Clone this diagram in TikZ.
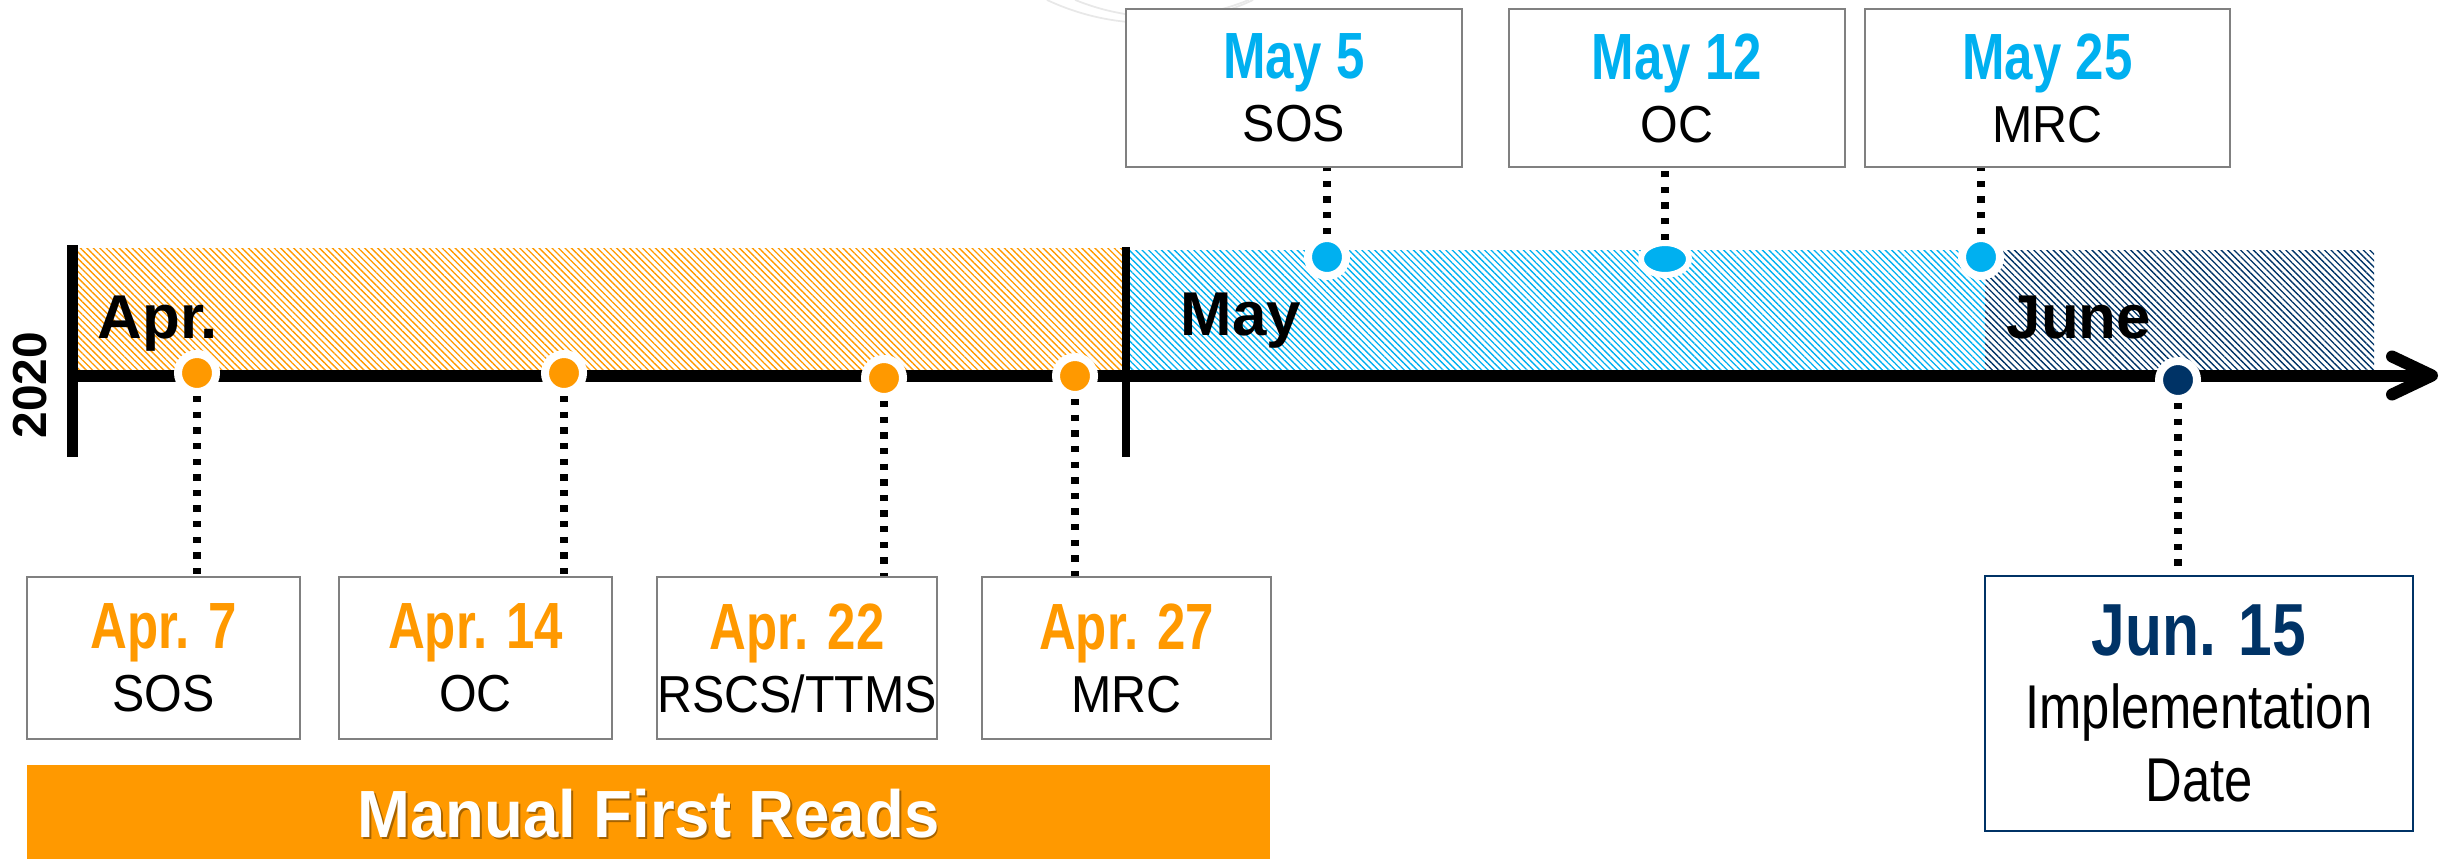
\documentclass[tikz,border=0pt]{standalone}
\usepackage{fontspec}
\setmainfont{Liberation Sans}
\newfontfamily\narrowsans{Liberation Sans}[FakeStretch=0.78]
\newfontfamily\semisans{Liberation Sans}[FakeStretch=0.93]
\newfontfamily\junsans{Liberation Sans}[FakeStretch=0.82]
\newfontfamily\barsans{Liberation Sans}[FakeStretch=0.95]
\usetikzlibrary{arrows.meta,patterns.meta,shadows,shapes.geometric}

\definecolor{aorange}{HTML}{FF9900}
\definecolor{mblue}{HTML}{00B0F0}
\definecolor{jnavy}{HTML}{003366}
\definecolor{boxgray}{HTML}{808080}

\newcommand{\evdate}[2]{{\narrowsans\bfseries\fontsize{18.6}{20}\selectfont\color{#1}#2}}

\tikzset{
	evbox/.style={draw=boxgray,line width=.6pt,fill=white,inner sep=0pt,align=center,
		font=\semisans\fontsize{14.8}{17.9}\selectfont},
	evdot/.style={circle,fill=#1,draw=white,line width=.8mm,minimum size=3.8mm,inner sep=0pt,
		drop shadow={opacity=.3,shadow xshift=.2mm,shadow yshift=-.2mm}},
	dotline/.style={line width=2.2pt,dash pattern=on 1.8pt off 2.65pt},
	monthlbl/.style={anchor=base west,inner sep=0pt,font=\bfseries\fontsize{17.6}{20}\selectfont},
	hatch/.style={pattern={Lines[angle=-45,distance=1.3pt,line width=.38pt]},pattern color=#1},
	bartxt/.style={inner sep=0pt,font=\barsans\bfseries\fontsize{19}{21}\selectfont},
}

\begin{document}
\begin{tikzpicture}
	\useasboundingbox (0,0) rectangle (24.45,8.59);
	% faint arcs at the top
	\draw[gray!18,line width=.5pt] (11.5,10.78) ++(244.8:2.42) arc[start angle=244.8,end angle=295.2,radius=2.42];
	\draw[gray!18,line width=.5pt] (11.62,10.72) ++(247.8:2.3) arc[start angle=247.8,end angle=292.2,radius=2.3];
	% month bands
	\path[hatch=aorange] (0.78,4.89) rectangle (11.22,6.11);
	\path[hatch=mblue] (11.26,4.89) rectangle (19.85,6.09);
	\path[hatch=jnavy] (19.85,4.89) rectangle (23.74,6.09);
	% axis
	\coordinate (ax0) at (0.67,4.835);
	\coordinate (ax1) at (24.38,4.835);
	\draw[line width=1.2mm,-{Straight Barb[length=4mm,width=3.8mm,round]}] (ax0) -- (ax1);
	\draw[line width=1.1mm] (0.725,6.14) -- (0.725,4.02);
	\draw[line width=.8mm] (11.26,6.12) -- (11.26,4.02);
	\node[rotate=90,inner sep=0pt,font=\bfseries\fontsize{13.6}{15}\selectfont] (yr) at (0.30,4.74) {2020};
	\node[monthlbl] (apr) at (0.97,5.21) {Apr.};
	\node[monthlbl] (may) at (11.80,5.24) {May};
	\node[monthlbl] (jun) at (20.06,5.21) {June};
	% april, below the axis
	\foreach \nm/\px/\py/\bx/\bw/\dt/\lb in {a7/1.97/4.86/1.635/2.73/Apr. 7/SOS,
		a14/5.64/4.86/4.755/2.73/Apr. 14/OC,
		a22/8.84/4.81/7.97/2.80/Apr. 22/{RSCS/TTMS},
		a27/10.75/4.83/11.265/2.89/Apr. 27/MRC}{
		\node[evdot=aorange] (p\nm) at (\px,\py) {};
		\node[evbox,minimum width=\bw cm,minimum height=1.62cm] (b\nm) at (\bx,2.01) {\evdate{aorange}{\dt}\\\lb};
		\draw[dotline] (p\nm) -- (p\nm |- b\nm.north);
	}
	% may, above the axis
	\node[evdot=mblue] (pm5) at (13.27,6.02) {};
	\node[evdot=mblue,ellipse,line width=.6mm,minimum width=4.8mm,minimum height=3.2mm] (pm12) at (16.65,6.00) {};
	\node[evdot=mblue] (pm25) at (19.81,6.02) {};
	\foreach \nm/\bx/\bw/\dt/\lb in {m5/12.94/3.36/May 5/SOS,
		m12/16.77/3.36/May 12/OC,
		m25/20.475/3.65/May 25/MRC}{
		\node[evbox,minimum width=\bw cm,minimum height=1.58cm] (t\nm) at (\bx,7.71) {\evdate{mblue}{\dt}\\\lb};
		\draw[dotline] (p\nm) -- (p\nm |- t\nm.south);
	}
	% june
	\node[evdot=jnavy] (pj15) at (21.78,4.79) {};
	\node[evbox,draw=jnavy,minimum width=4.28cm,minimum height=2.55cm,
		font=\junsans\fontsize{17.6}{20.7}\selectfont] (bj15) at (21.99,1.555)
		{{\junsans\bfseries\fontsize{21}{22}\selectfont\color{jnavy}Jun. 15}\\Implementation\\Date};
	\draw[dotline] (pj15) -- (pj15 |- bj15.north);
	% manual first reads
	\node[fill=aorange,minimum width=12.43cm,minimum height=.94cm,inner sep=0pt] (mfr) at (6.485,.47) {};
	\node[bartxt,text=black,opacity=.35] (mfrs) at ([xshift=.5pt,yshift=-.6pt]6.485,.45) {Manual First Reads};
	\node[bartxt,text=white] (mfrt) at (6.485,.45) {Manual First Reads};
\end{tikzpicture}
\end{document}
